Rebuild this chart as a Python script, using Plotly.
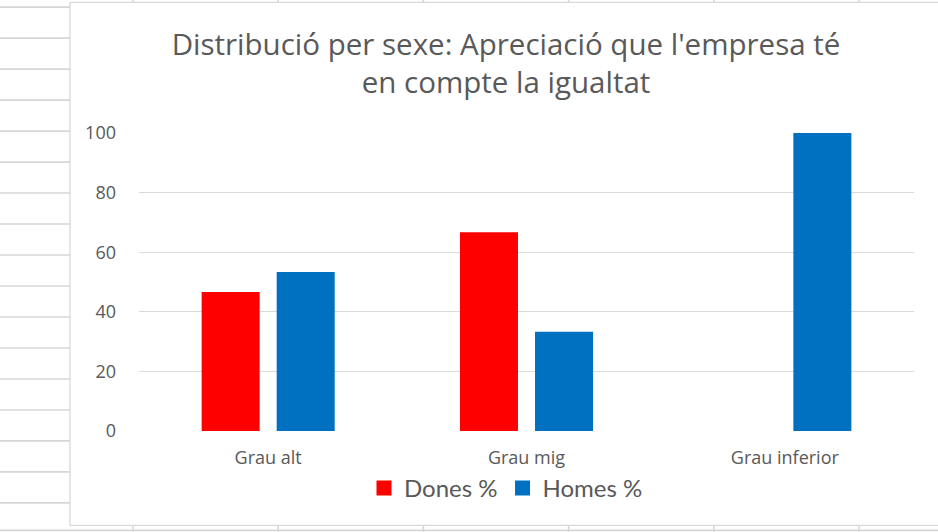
import plotly.graph_objects as go

categories = ["Grau alt", "Grau mig", "Grau inferior"]
dones = [46.67, 66.67, None]
homes = [53.33, 33.33, 100]
series_names = ["Dones %", "Homes %"]
y_ticks = [0, 20, 40, 60, 80, 100]

W, H = 938, 532
ML, MR, MT, MB = 139, 24, 133, 101.3
PW, PH = W - ML - MR, H - MT - MB

def px(x):
    return (x - ML) / PW

def py(y):
    return (H - MB - y) / PH

GRID = "#d9d9d9"
SHEET = "#d6d6d6"
TXT = "#595959"
FONT = "Lato"

shapes = []
# spreadsheet row lines on the left
for k in range(17):
    yy = 7.3 + 30.95 * k
    shapes.append(dict(type="line", xref="paper", yref="paper", x0=px(0), x1=px(71),
                       y0=py(yy), y1=py(yy), line=dict(color=SHEET, width=1.6), layer="below"))
# bottom sheet line
shapes.append(dict(type="line", xref="paper", yref="paper", x0=px(0), x1=px(W),
                   y0=py(530), y1=py(530), line=dict(color=SHEET, width=1.6), layer="below"))
# column lines
for k in range(6):
    xx = 133 + 145.2 * k
    shapes.append(dict(type="line", xref="paper", yref="paper", x0=px(xx), x1=px(xx),
                       y0=py(-2), y1=py(540), line=dict(color=SHEET, width=1.6), layer="below"))
# chart area
shapes.append(dict(type="rect", xref="paper", yref="paper", x0=px(70), x1=px(W + 10),
                   y0=py(525), y1=py(2.5), fillcolor="white",
                   line=dict(color=GRID, width=1.3), layer="below"))

fig = go.Figure()
fig.add_trace(go.Bar(x=categories, y=dones, name=series_names[0], marker_color="#ff0000",
                     marker_line_width=0, showlegend=False))
fig.add_trace(go.Bar(x=categories, y=homes, name=series_names[1], marker_color="#0070c0",
                     marker_line_width=0, showlegend=False))
for name, col in zip(series_names, ["#ff0000", "#0070c0"]):
    fig.add_trace(go.Scatter(x=[None], y=[None], mode="markers", name=name,
                             marker=dict(symbol="square", size=15, color=col)))

fig.update_layout(
    width=W, height=H,
    margin=dict(l=ML, r=MR, t=MT, b=MB, pad=0),
    paper_bgcolor="white", plot_bgcolor="rgba(0,0,0,0)",
    barmode="group", bargap=0.419, bargroupgap=0.227,
    font=dict(family=FONT, color=TXT),
    title=dict(text="Distribució per sexe: Apreciació que l'empresa té<br>en compte la igualtat",
               x=506 / W, xanchor="center", y=1 - 55 / H, yanchor="top",
               font=dict(family="Open Sans", size=29.5, color=TXT)),
    shapes=shapes,
    showlegend=True,
    legend=dict(orientation="h", x=px(506), xanchor="center", y=py(488), yanchor="middle",
                font=dict(family=FONT, size=24, color=TXT), bgcolor="rgba(0,0,0,0)"),
)
fig.update_xaxes(showgrid=False, zeroline=False, showline=False, ticks="",
                 tickfont=dict(family="Open Sans", size=18, color=TXT), ticklabelstandoff=14)
fig.update_yaxes(range=[0, 100], tickvals=y_ticks, showgrid=True, gridcolor=GRID, gridwidth=1.3,
                 zeroline=False, showline=False, ticks="",
                 tickfont=dict(family="Open Sans", size=18, color=TXT), ticklabelstandoff=22)

fig.write_html("out.html", config={"displayModeBar": False},
               post_script="document.body.style.margin='0';document.body.style.overflow='hidden';")
